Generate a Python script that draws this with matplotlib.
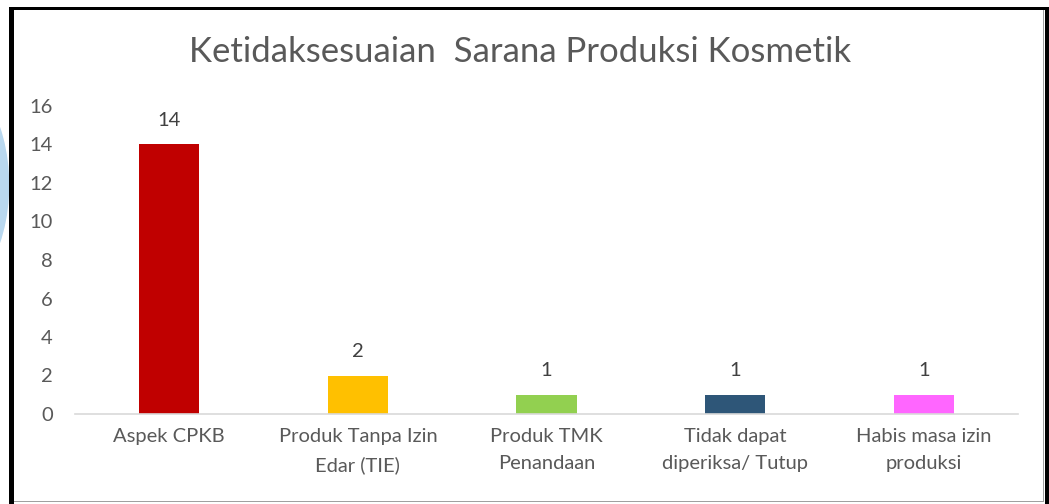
import matplotlib.pyplot as plt
from matplotlib.patches import Rectangle, Ellipse

categories = ["Aspek CPKB", "Produk Tanpa Izin\nEdar (TIE)", "Produk TMK\nPenandaan",
              "Tidak dapat\ndiperiksa/ Tutup", "Habis masa izin\nproduksi"]
values = [14, 2, 1, 1, 1]
colors = ["#c00000", "#ffc000", "#92d050", "#2e5678", "#ff66ff"]
yticks = [0, 2, 4, 6, 8, 10, 12, 14, 16]
title = "Ketidaksesuaian  Sarana Produksi Kosmetik"

W, H = 1049, 504
plt.rcParams['font.family'] = ['Lato', 'DejaVu Sans']
txt = "#595959"

fig = plt.figure(figsize=(W / 100, H / 100), dpi=100)

# background layer in pixel coords: blue decoration + frame
bg = fig.add_axes([0, 0, 1, 1], zorder=-1)
bg.set_xlim(0, W)
bg.set_ylim(H, 0)
bg.axis("off")
bg.add_patch(Ellipse((-70, 185), 160, 250, facecolor="#b9d8ef", edgecolor="white", lw=1, zorder=1))
bg.add_patch(Ellipse((-70, 185), 130, 210, facecolor="none", edgecolor="white", lw=0.8, zorder=1))
bg.add_patch(Rectangle((11, 8), 1035, 494, facecolor="white", edgecolor="none", zorder=2))
# frame: thick black left/top/right, thin gray inner right/bottom
bg.add_patch(Rectangle((9, 7), 5, H - 7, facecolor="black", edgecolor="none", zorder=5))
bg.add_patch(Rectangle((9, 7), W - 9, 3, facecolor="black", edgecolor="none", zorder=5))
bg.add_patch(Rectangle((1045, 7), 4, H - 7, facecolor="black", edgecolor="none", zorder=5))
bg.add_patch(Rectangle((1043, 10), 1, 492, facecolor="#a0a0a0", edgecolor="none", zorder=5))
bg.add_patch(Rectangle((14, 501), 1030, 1, facecolor="#a0a0a0", edgecolor="none", zorder=5))

ax = fig.add_axes([75 / W, 90 / H, 943 / W, 308 / H])
ax.set_facecolor("none")
x = range(len(categories))
bars = ax.bar(x, values, width=0.32, color=colors, zorder=2)
for xi, v in zip(x, values):
    ax.annotate(str(v), (xi, v), xytext=(0, 11), textcoords="offset points",
                ha="center", va="bottom", fontsize=14.5, color="#404040")

ax.set_xlim(-0.5, len(categories) - 0.5)
ax.set_ylim(0, 16)
ax.set_yticks(yticks)
ax.set_xticks(list(x))
ax.set_xticklabels(categories, fontsize=14.5, color=txt, linespacing=1.75)
ax.tick_params(axis="y", labelsize=14.5, labelcolor=txt, length=0, pad=16)
ax.tick_params(axis="x", length=0, pad=10)
for s in ["top", "right", "left"]:
    ax.spines[s].set_visible(False)
ax.spines["bottom"].set_color("#d9d9d9")
ax.spines["bottom"].set_linewidth(1.2)

fig.text(520 / W, 1 - 52 / H, title, ha="center", va="center", fontsize=25, color=txt)

fig.savefig("out.png", dpi=100)
